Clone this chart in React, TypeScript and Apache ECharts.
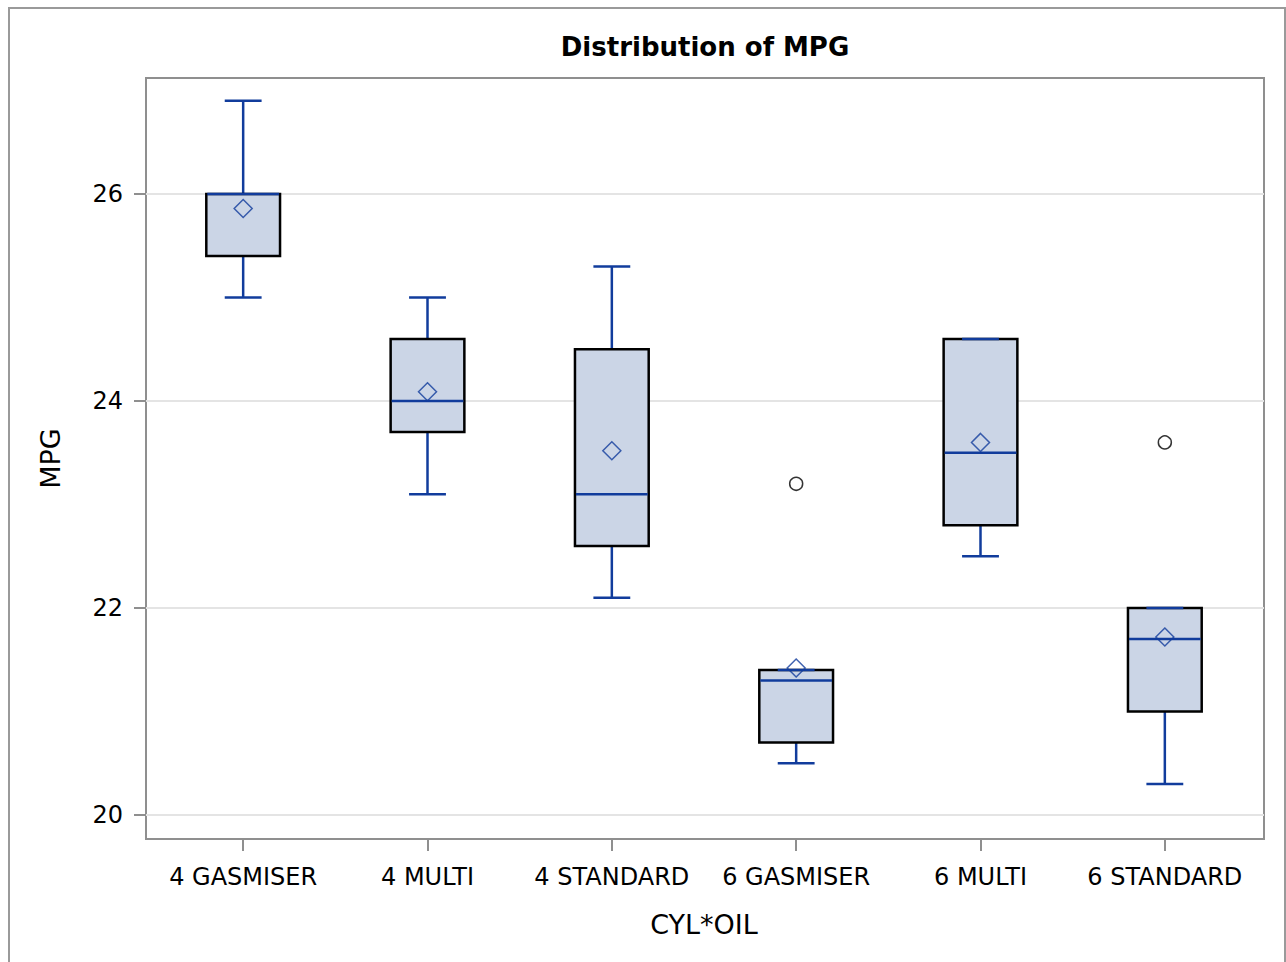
import React, { useEffect, useRef } from 'react';
import * as echarts from 'echarts';

const categories = ['4 GASMISER', '4 MULTI', '4 STANDARD', '6 GASMISER', '6 MULTI', '6 STANDARD'];
const whiskerLow = [25.0, 23.1, 22.1, 20.5, 22.5, 20.3];
const q1 = [25.4, 23.7, 22.6, 20.7, 22.8, 21.0];
const median = [26.0, 24.0, 23.1, 21.3, 23.5, 21.7];
const q3 = [26.0, 24.6, 24.5, 21.4, 24.6, 22.0];
const whiskerHigh = [26.9, 25.0, 25.3, 21.4, 24.6, 22.0];
const means = [25.86, 24.09, 23.52, 21.42, 23.6, 21.72];
const outlierCategory = [3, 5];
const outlierValue = [23.2, 23.6];
const yTicks = [20, 22, 24, 26];

const BLUE = '#113c9c';
const FILL = '#cbd5e6';
const FRAME = '#8f8f8f';
const FONT = 'DejaVu Sans';
const Y_MIN = 19.768;
const Y_MAX = 27.121;

export default function App() {
  const ref = useRef<HTMLDivElement>(null);
  useEffect(() => {
    const chart = echarts.init(ref.current!, null, { renderer: 'svg' });
    const boxData = categories.map((_, i) => [i, whiskerLow[i], q1[i], median[i], q3[i], whiskerHigh[i]]);
    const option: any = {
      animation: false,
      backgroundColor: '#fff',
      graphic: [
        {
          type: 'rect',
          silent: true,
          shape: { x: 9, y: 8, width: 1276, height: 1000 },
          style: { fill: 'none', stroke: '#9a9a9a', lineWidth: 2 },
        },
        {
          type: 'text',
          x: 705,
          y: 34,
          style: {
            text: 'Distribution of MPG',
            fontFamily: FONT,
            fontWeight: 'bold',
            fontSize: 26,
            fill: '#000',
            textAlign: 'center',
            textVerticalAlign: 'top',
          },
        },
      ],
      grid: [
        { left: 146, top: 78, width: 1118, height: 761, show: true, borderColor: FRAME, borderWidth: 2, backgroundColor: 'transparent' },
        { left: 151, top: 78, width: 1106, height: 761 },
      ],
      xAxis: [
        { gridIndex: 0, type: 'value', show: false, min: 0, max: 1 },
        {
          gridIndex: 1,
          type: 'category',
          data: categories,
          axisLine: { show: false },
          axisTick: { show: true, interval: 0, alignWithLabel: true, length: 12, lineStyle: { color: FRAME, width: 2 } },
          axisLabel: { interval: 0, margin: 26, fontSize: 24, color: '#000', fontFamily: FONT },
          splitLine: { show: false },
          name: 'CYL*OIL',
          nameLocation: 'middle',
          nameGap: 72,
          nameTextStyle: { fontSize: 27, color: '#000', fontFamily: FONT },
        },
      ],
      yAxis: [
        {
          gridIndex: 0,
          type: 'value',
          min: Y_MIN,
          max: Y_MAX,
          axisLine: { show: false },
          axisTick: { show: true, customValues: yTicks, length: 12, lineStyle: { color: FRAME, width: 2 } },
          axisLabel: { customValues: yTicks, margin: 23, fontSize: 24, color: '#000', fontFamily: FONT, formatter: (v: number) => String(Math.round(v)) },
          splitLine: { show: true, lineStyle: { color: '#e4e4e4', width: 2 } },
          name: 'MPG',
          nameLocation: 'middle',
          nameGap: 82,
          nameRotate: 90,
          nameTextStyle: { fontSize: 27, color: '#000', fontFamily: FONT },
        },
        { gridIndex: 1, type: 'value', min: Y_MIN, max: Y_MAX, show: false, splitLine: { show: false } },
      ],
      series: [
        {
          type: 'custom',
          xAxisIndex: 1,
          yAxisIndex: 1,
          data: boxData,
          encode: { x: 0, y: [1, 2, 3, 4, 5] },
          z: 2,
          renderItem: (params: any, api: any) => {
            const i = api.value(0);
            const lo = api.coord([i, api.value(1)]);
            const b1 = api.coord([i, api.value(2)]);
            const md = api.coord([i, api.value(3)]);
            const b3 = api.coord([i, api.value(4)]);
            const hi = api.coord([i, api.value(5)]);
            const band = api.size([1, 0])[0];
            const bw = band * 0.4;
            const cw = bw / 2;
            const cx = lo[0];
            const ls = { stroke: BLUE, lineWidth: 2.5 };
            return {
              type: 'group',
              children: [
                { type: 'line', shape: { x1: cx, y1: b3[1], x2: cx, y2: hi[1] }, style: ls },
                { type: 'line', shape: { x1: cx, y1: b1[1], x2: cx, y2: lo[1] }, style: ls },
                {
                  type: 'rect',
                  shape: { x: cx - bw / 2, y: b3[1], width: bw, height: b1[1] - b3[1] },
                  style: { fill: FILL, stroke: '#000', lineWidth: 2.5 },
                },
                { type: 'line', shape: { x1: cx - bw / 2 + 1, y1: md[1], x2: cx + bw / 2 - 1, y2: md[1] }, style: ls },
                { type: 'line', shape: { x1: cx - cw / 2, y1: hi[1], x2: cx + cw / 2, y2: hi[1] }, style: ls },
                { type: 'line', shape: { x1: cx - cw / 2, y1: lo[1], x2: cx + cw / 2, y2: lo[1] }, style: ls },
              ],
            };
          },
        },
        {
          type: 'scatter',
          xAxisIndex: 1,
          yAxisIndex: 1,
          z: 3,
          symbol: 'diamond',
          symbolSize: 18,
          itemStyle: { color: 'rgba(0,0,0,0)', borderColor: BLUE, borderWidth: 1.5 },
          data: means.map((m, i) => [i, m]),
        },
        {
          type: 'scatter',
          xAxisIndex: 1,
          yAxisIndex: 1,
          z: 3,
          symbol: 'circle',
          symbolSize: 13,
          itemStyle: { color: 'rgba(0,0,0,0)', borderColor: '#000', borderWidth: 1.5 },
          data: outlierCategory.map((c, k) => [c, outlierValue[k]]),
        },
      ],
    };
    chart.setOption(option);
    return () => chart.dispose();
  }, []);
  return <div ref={ref} style={{ position: 'fixed', left: 0, top: 0, width: 1286, height: 962 }} />;
}
